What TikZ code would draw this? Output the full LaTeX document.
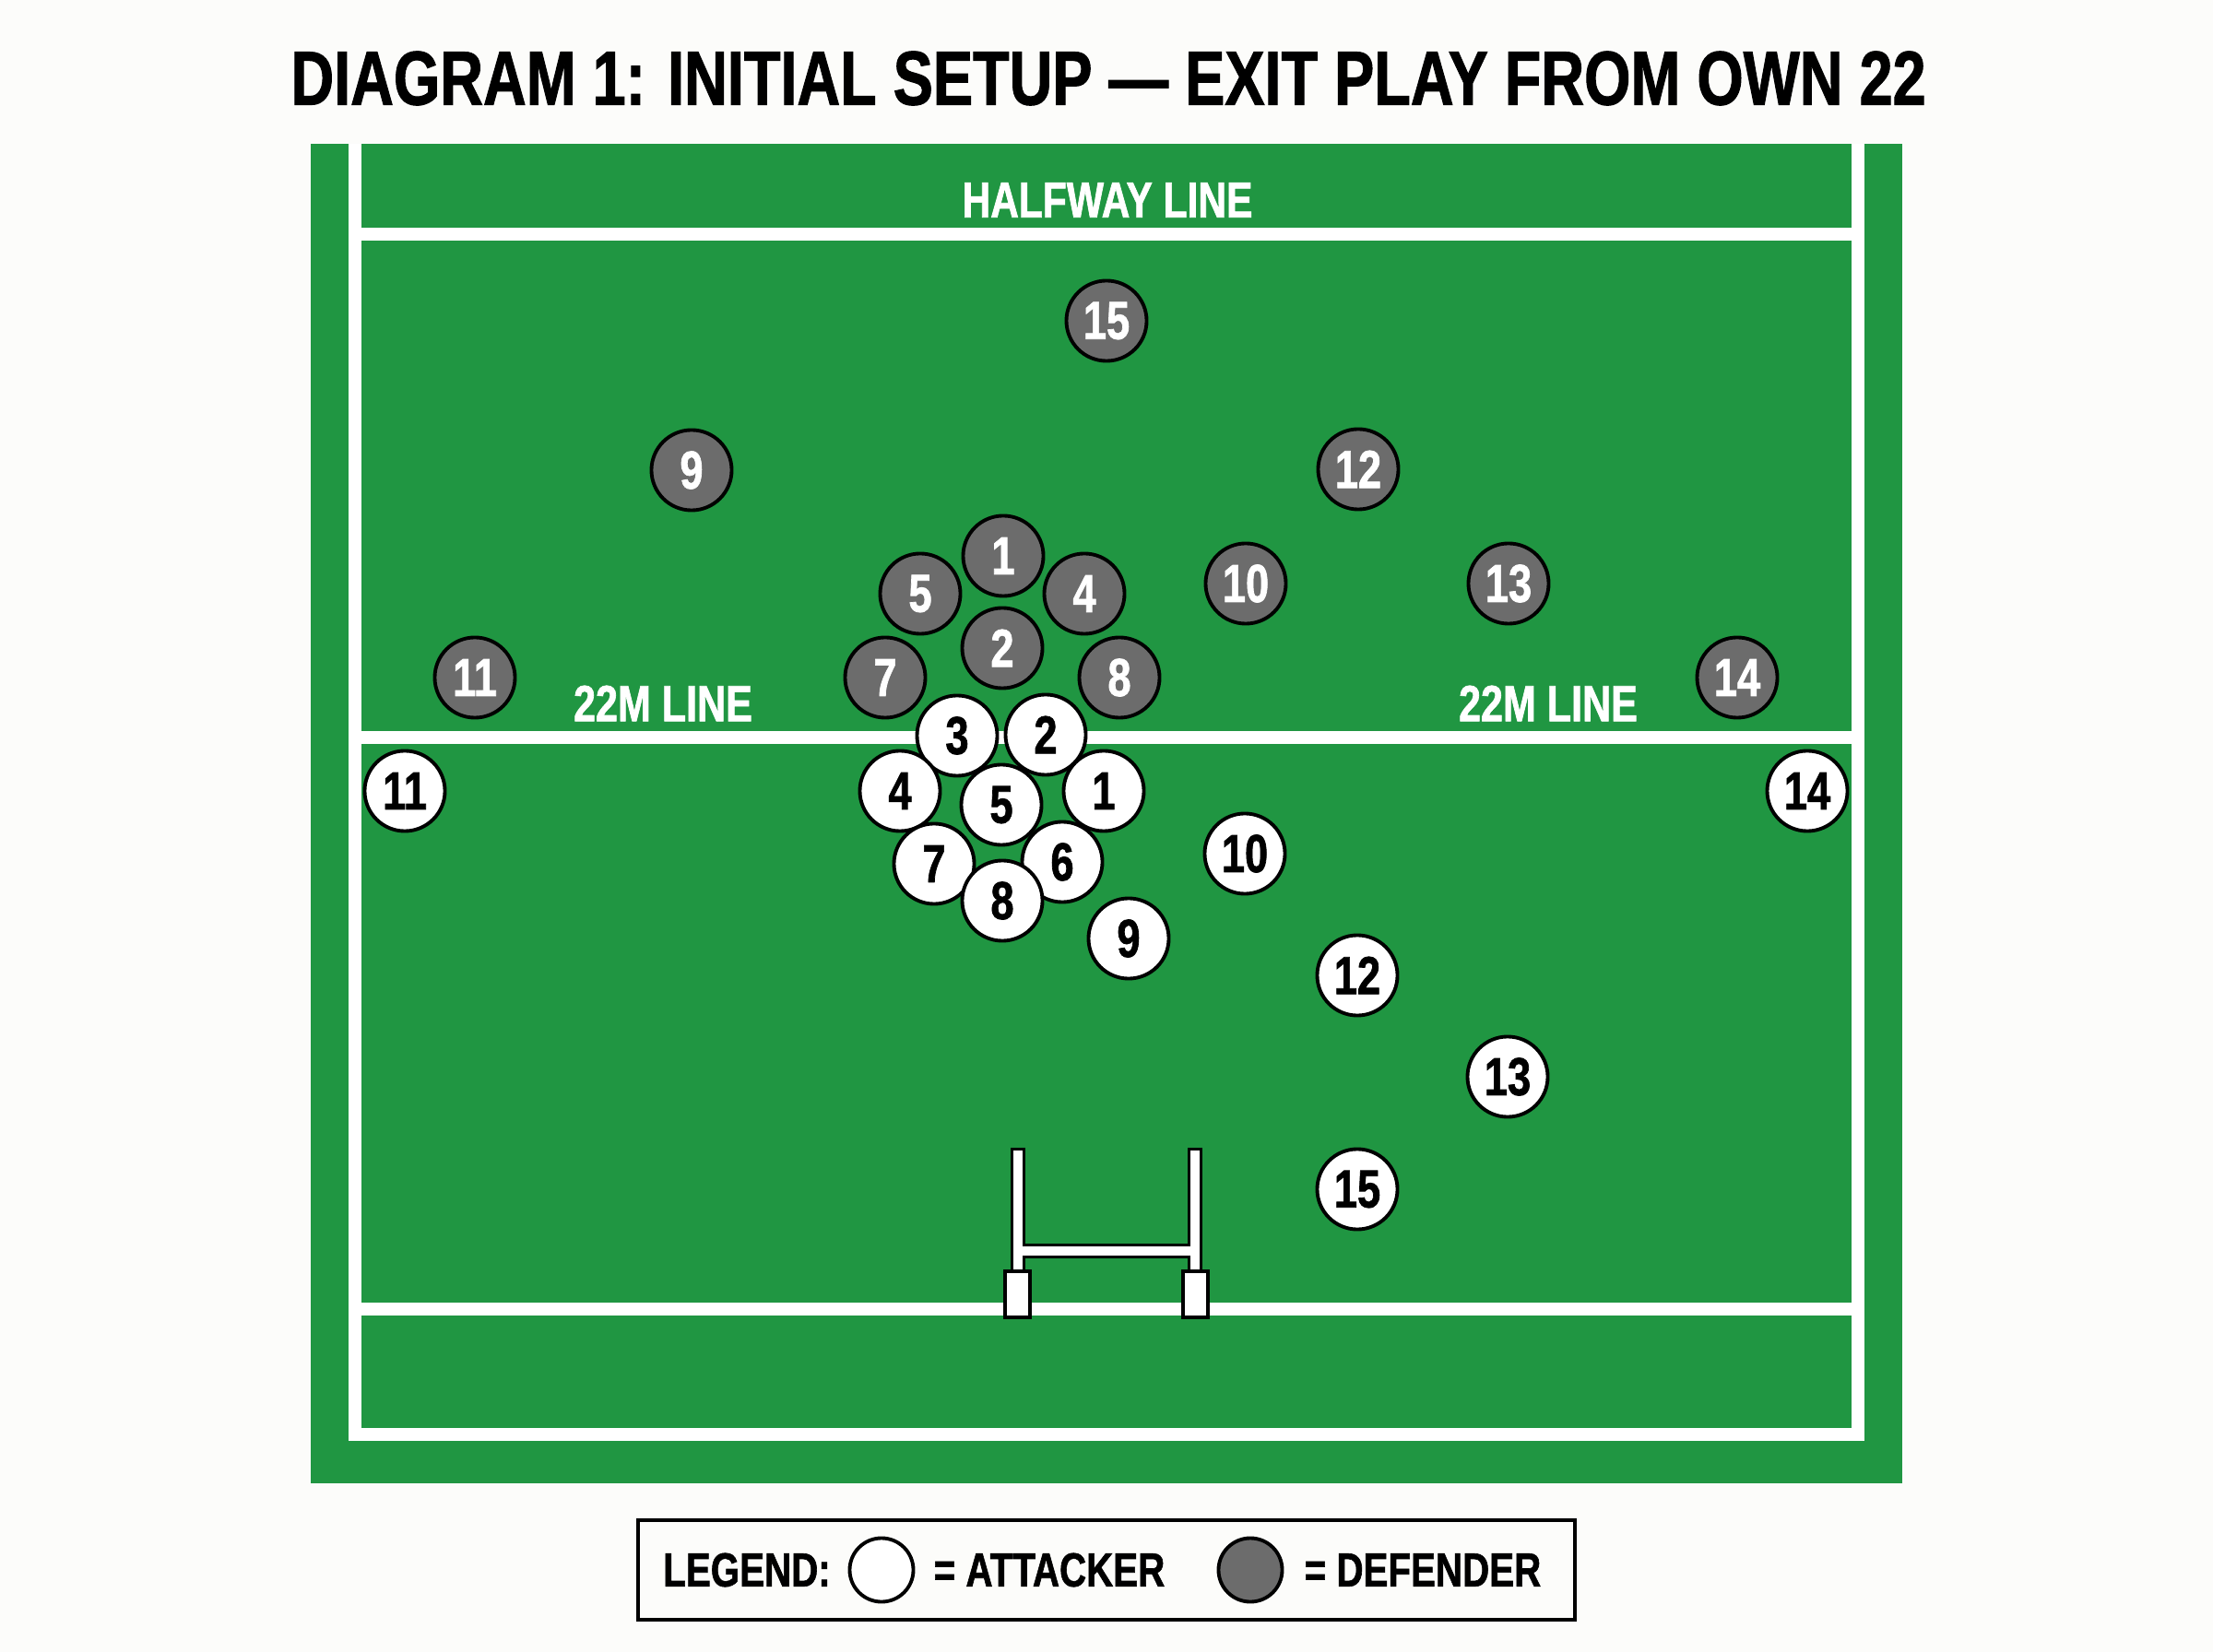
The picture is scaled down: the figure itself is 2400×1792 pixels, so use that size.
\documentclass[tikz,border=0pt]{standalone}
\usepackage{fontspec}
\setmainfont{Liberation Sans}[FakeStretch=0.78, BoldFeatures={FakeBold=1.2}]
\definecolor{pitch}{RGB}{32,150,66}
\definecolor{defgrey}{RGB}{108,108,108}
\definecolor{paper}{RGB}{252,252,250}
\begin{document}
\begin{tikzpicture}[x=0.01cm, y=-0.01cm,
        fieldline/.style={white, line width=4pt},
        player/.style={circle, draw=black, line width=1.1pt, minimum size=0.87cm, inner sep=0pt,
                       font=\bfseries\fontsize{16.5}{16.5}\selectfont},
        attacker/.style={player, fill=white, text=black},
        defender/.style={player, fill=defgrey, text=white},
        linelabel/.style={white, inner sep=0pt, font=\bfseries\fontsize{15.7}{15.7}\selectfont},
        legendtext/.style={inner sep=0pt, font=\bfseries\fontsize{14.7}{14.7}\selectfont}]
        \useasboundingbox[fill=paper] (0,0) rectangle (2400,1792);
        % title
        \node[inner sep=0pt, font=\bfseries\fontsize{23.6}{23.6}\selectfont] (title) at (1202,85)
              {DIAGRAM 1: INITIAL SETUP — EXIT PLAY FROM OWN 22};
        % pitch
        \fill[pitch] (337,156) rectangle (2063,1609);
        \draw[fieldline] (385,156) -- (385,1556) -- (2015,1556) -- (2015,156)
              (385,254) -- (2015,254)
              (385,800) -- (2015,800)
              (385,1420) -- (2015,1420);
        \node[linelabel, font=\bfseries\fontsize{15.5}{15.5}\selectfont] (halfway) at (1201,217) {HALFWAY LINE};
        \node[linelabel] (left22) at (719,763) {22M LINE};
        \node[linelabel] (right22) at (1679,763) {22M LINE};
        % posts
        \draw[black, line width=4.3pt] (1104,1245) -- (1104,1400) (1296,1245) -- (1296,1400)
              (1104,1357) -- (1296,1357);
        \draw[white, line width=2.6pt] (1104,1248) -- (1104,1400) (1296,1248) -- (1296,1400)
              (1104,1357) -- (1296,1357);
        \filldraw[fill=white, draw=black, line width=1.1pt] (1090,1379) rectangle (1117,1429)
              (1283,1379) rectangle (1310,1429);
        % defenders
        \node[defender] (d15) at (1200,348) {15};
        \node[defender] (d9) at (750,510) {9};
        \node[defender] (d12) at (1473,509) {12};
        \node[defender] (d10) at (1351,633) {10};
        \node[defender] (d13) at (1636,633) {13};
        \node[defender] (d11) at (515,735) {11};
        \node[defender] (d14) at (1884,735) {14};
        \node[defender] (d1) at (1088,603) {1};
        \node[defender] (d5) at (998,644) {5};
        \node[defender] (d4) at (1176,644) {4};
        \node[defender] (d2) at (1087,703) {2};
        \node[defender] (d7) at (960,735) {7};
        \node[defender] (d8) at (1214,735) {8};
        % attackers
        \node[attacker] (a3) at (1038,798) {3};
        \node[attacker] (a2) at (1134,797) {2};
        \node[attacker] (a4) at (976,858) {4};
        \node[attacker] (a5) at (1086,873) {5};
        \node[attacker] (a1) at (1197,858) {1};
        \node[attacker] (a7) at (1013,937) {7};
        \node[attacker] (a6) at (1152,935) {6};
        \node[attacker] (a8) at (1087,977) {8};
        \node[attacker] (a11) at (439,858) {11};
        \node[attacker] (a14) at (1960,858) {14};
        \node[attacker] (a10) at (1350,926) {10};
        \node[attacker] (a9) at (1224,1018) {9};
        \node[attacker] (a12) at (1472,1058) {12};
        \node[attacker] (a13) at (1635,1168) {13};
        \node[attacker] (a15) at (1472,1290) {15};
        % legend
        \draw[line width=1pt] (692,1649) rectangle (1708,1757);
        \node[legendtext] (keyword) at (810,1703) {LEGEND:};
        \node[attacker, minimum size=0.69cm] (keyatt) at (956,1703) {};
        \node[legendtext] (keyatttext) at (1138,1703) {= ATTACKER};
        \node[defender, minimum size=0.69cm] (keydef) at (1356,1703) {};
        \node[legendtext] (keydeftext) at (1543,1703) {= DEFENDER};
\end{tikzpicture}
\end{document}
